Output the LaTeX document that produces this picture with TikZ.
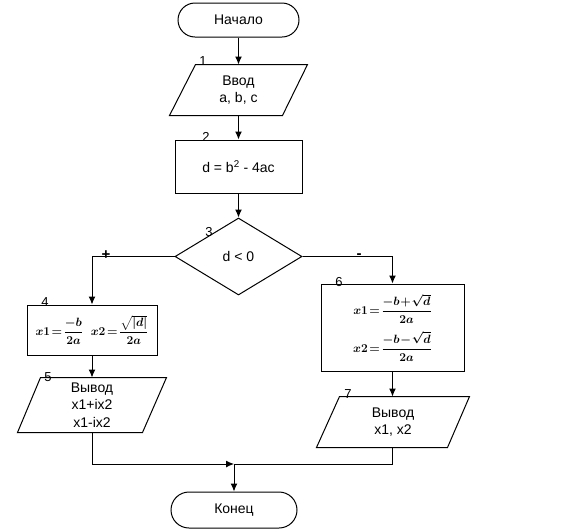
\documentclass[tikz,border=0pt]{standalone}
\usepackage{amsmath}
\usepackage{fontspec}
\setmainfont{Liberation Sans}
\usetikzlibrary{shapes.geometric,arrows.meta,calc}
\newcommand{\fmlA}{{\fontsize{12}{14}\selectfont\boldmath$x1\!=\!\dfrac{-b}{2a}\;\; x2\!=\!\dfrac{\sqrt{\lvert d\rvert}}{2a}$}}
\newcommand{\fmlB}{{\fontsize{12}{14}\selectfont\boldmath$x1\!=\!\dfrac{-b\!+\!\sqrt{d}}{2a}$}}
\newcommand{\fmlC}{{\fontsize{12}{14}\selectfont\boldmath$x2\!=\!\dfrac{-b\!-\!\sqrt{d}}{2a}$}}
\begin{document}
\begin{tikzpicture}[x=1pt,y=-1pt,
  font=\fontsize{14}{17.5}\selectfont,
  line width=1pt,
  term/.style={draw, rectangle, rounded corners=17pt, inner sep=0pt},
  proc/.style={draw, rectangle, inner sep=0pt, align=center},
  para/.style={rectangle, inner sep=0pt, align=center},
  num/.style={font=\fontsize{13}{14}\selectfont, inner sep=0.5pt},
  sign/.style={font=\fontsize{15}{15}\selectfont\bfseries, inner sep=0.5pt},
  arr/.style={-{Latex[length=8pt,width=7pt]}}]
\useasboundingbox (0,0) rectangle (570,531);

% nodes
\node[term, minimum width=121pt, minimum height=34pt] (start) at (238.5,20) {Начало};
\node[para, minimum width=137pt, minimum height=50pt] (in1) at (238.5,90) {Ввод\\a, b, c};
\draw ($(in1.north west)+(26,0)$) -- (in1.north east) -- ($(in1.south east)-(25,0)$) -- (in1.south west) -- cycle;
\node[proc, minimum width=127pt, minimum height=53pt] (b2) at (238.5,166.5) {d = b\textsuperscript{2} - 4ac};
\node[draw, diamond, minimum width=127pt, minimum height=77pt, inner sep=0pt] (b3) at (238.5,256.5) {d < 0};
\node[proc, minimum width=130pt, minimum height=50pt] (b4) at (92,330) {\fmlA};
\node[para, minimum width=148pt, minimum height=54pt] (p5) at (92,405) {Вывод\\x1+ix2\\x1-ix2};
\draw ($(p5.north west)+(23,0)$) -- (p5.north east) -- ($(p5.south east)-(24,0)$) -- (p5.south west) -- cycle;
\node[proc, minimum width=143pt, minimum height=87pt] (b6) at (392.5,327.5) {\fmlB\\[7pt]\fmlC};
\node[para, minimum width=152pt, minimum height=50pt] (p7) at (393,422) {Вывод\\x1, x2};
\draw ($(p7.north west)+(23,0)$) -- (p7.north east) -- ($(p7.south east)-(22,0)$) -- (p7.south west) -- cycle;
\node[term, minimum width=126pt, minimum height=36pt, rounded corners=18pt] (stop) at (234,510) {Конец};

% numbers
\node[num] (n1) at (203,61) {1};
\node[num] (n2) at (206,137) {2};
\node[num] (n3) at (209,232) {3};
\node[num] (n4) at (45,302) {4};
\node[num] (n5) at (48,377) {5};
\node[num] (n6) at (339,282) {6};
\node[num] (n7) at (348,394) {7};

% connectors
\draw[arr] (start.south) -- (in1.north);
\draw[arr] (in1.south) -- (b2.north);
\draw[arr] (b2.south) -- (b3.north);
\draw[arr] (b3.west) -| (b4.north);
\draw[arr] (b3.east) -| (b6.north);
\node[sign] (plus) at (106,255) {+};
\node[sign] (minus) at (359,256) {-};
\draw[arr] (b4.south) -- (b4.south |- p5.north);
\draw[arr] (b6.south) -- (b6.south |- p7.north);
\coordinate (j) at (234,464);
\draw[arr] (p5.south -| b4.south) |- (j);
\draw (p7.south -| b6.south) |- (j);
\draw[arr] (j) -- (stop.north);
\end{tikzpicture}
\end{document}
